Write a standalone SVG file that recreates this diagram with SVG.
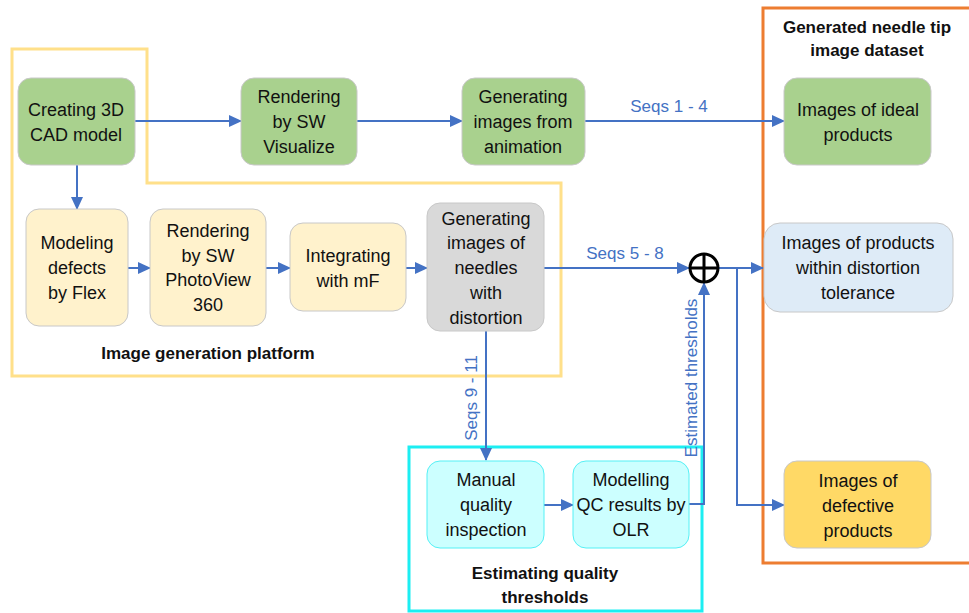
<svg xmlns="http://www.w3.org/2000/svg" width="969" height="613" viewBox="0 0 969 613">
<style>
.n{stroke:#C8C8C8;stroke-width:1}
.t{font-family:"Liberation Sans",Arial,sans-serif;font-size:18px;fill:#111;text-anchor:middle}
.b{font-family:"Liberation Sans",Arial,sans-serif;font-size:17px;font-weight:bold;fill:#111;text-anchor:middle}
.l{font-family:"Liberation Sans",Arial,sans-serif;font-size:17px;fill:#4472C4;text-anchor:middle}
.c{fill:none;stroke:#4472C4;stroke-width:2}
.green{fill:#A9D18E}.yel{fill:#FFF2CC}.gray{fill:#D9D9D9}.blue{fill:#DEEBF7}.gold{fill:#FFD966}.cyan{fill:#CCFFFF;stroke:#55F0F5}
</style>
<defs>
<marker id="a" markerUnits="userSpaceOnUse" markerWidth="13" markerHeight="12" refX="12" refY="6" orient="auto">
<path d="M0,0 L13,6 L0,12 z" fill="#4472C4"/>
</marker>
</defs>
<rect width="969" height="613" fill="#fff"/>
<g id="frames">
<path d="M12,49 H147 V183 H561 V376 H12 Z" fill="none" stroke="#FFE08A" stroke-width="3"/>
<rect x="763" y="8" width="215" height="555" fill="none" stroke="#ED7D31" stroke-width="3"/>
<rect x="409" y="447" width="293" height="164" fill="none" stroke="#1CEEF2" stroke-width="3"/>
<text class="b" x="208" y="359">Image generation platform</text>
<text class="b" x="867" y="33">Generated needle tip</text>
<text class="b" x="867" y="56">image dataset</text>
<text class="b" x="545" y="579">Estimating quality</text>
<text class="b" x="545" y="603">thresholds</text>
</g>
<g id="connectors">
<path class="c" d="M135,121 H241" marker-end="url(#a)"/>
<path class="c" d="M357,121 H462" marker-end="url(#a)"/>
<path class="c" d="M585,121 H784" marker-end="url(#a)"/>
<path class="c" d="M77,165 V209" marker-end="url(#a)"/>
<path class="c" d="M128,268 H150" marker-end="url(#a)"/>
<path class="c" d="M266,268 H290" marker-end="url(#a)"/>
<path class="c" d="M406,268 H427" marker-end="url(#a)"/>
<path class="c" d="M544,268 H689" marker-end="url(#a)"/>
<path class="c" d="M719,268 H763" marker-end="url(#a)"/>
<path class="c" d="M737,268 V505 H784" marker-end="url(#a)"/>
<path class="c" d="M486,331 V460" marker-end="url(#a)"/>
<path class="c" d="M544,505 H573" marker-end="url(#a)"/>
<path class="c" d="M689,504 H704 V283" marker-end="url(#a)"/>
<text class="l" x="669" y="112">Seqs 1 - 4</text>
<text class="l" x="625" y="259">Seqs 5 - 8</text>
<text class="l" transform="translate(477,398) rotate(-90)">Seqs 9 - 11</text>
<text class="l" transform="translate(697,378) rotate(-90)">Estimated thresholds</text>
</g>
<g id="oplus">
<circle cx="704" cy="268" r="14" fill="#fff" stroke="#000" stroke-width="3"/>
<path d="M690,268 H718 M704,254 V282" stroke="#000" stroke-width="3"/>
</g>
<g id="cad"><rect class="n green" x="18" y="78" width="117" height="87" rx="13"/>
<text class="t" x="76" y="116">Creating 3D</text><text class="t" x="76" y="141">CAD model</text></g>
<g id="visualize"><rect class="n green" x="241" y="78" width="116" height="87" rx="13"/>
<text class="t" x="299" y="103">Rendering</text><text class="t" x="299" y="128">by SW</text><text class="t" x="299" y="153">Visualize</text></g>
<g id="animation"><rect class="n green" x="462" y="78" width="123" height="87" rx="13"/>
<text class="t" x="523" y="103">Generating</text><text class="t" x="523" y="128">images from</text><text class="t" x="523" y="153">animation</text></g>
<g id="flex"><rect class="n yel" x="26" y="209" width="102" height="117" rx="13"/>
<text class="t" x="77" y="249">Modeling</text><text class="t" x="77" y="274">defects</text><text class="t" x="77" y="299">by Flex</text></g>
<g id="photoview"><rect class="n yel" x="150" y="209" width="116" height="117" rx="13"/>
<text class="t" x="208" y="237">Rendering</text><text class="t" x="208" y="262">by SW</text><text class="t" x="208" y="286">PhotoView</text><text class="t" x="208" y="311">360</text></g>
<g id="mf"><rect class="n yel" x="290" y="223" width="116" height="88" rx="13"/>
<text class="t" x="348" y="262">Integrating</text><text class="t" x="348" y="287">with mF</text></g>
<g id="distortion"><rect class="n gray" x="427" y="203" width="117" height="128" rx="13"/>
<text class="t" x="486" y="225">Generating</text><text class="t" x="486" y="249">images of</text><text class="t" x="486" y="274">needles</text><text class="t" x="486" y="299">with</text><text class="t" x="486" y="324">distortion</text></g>
<g id="manual"><rect class="cyan" x="427" y="461" width="117" height="87" rx="13"/>
<text class="t" x="486" y="486">Manual</text><text class="t" x="486" y="511">quality</text><text class="t" x="486" y="536">inspection</text></g>
<g id="olr"><rect class="cyan" x="573" y="461" width="116" height="87" rx="13"/>
<text class="t" x="631" y="486">Modelling</text><text class="t" x="631" y="511">QC results by</text><text class="t" x="631" y="536">OLR</text></g>
<g id="ideal"><rect class="n green" x="784" y="78" width="147" height="87" rx="13"/>
<text class="t" x="858" y="116">Images of ideal</text><text class="t" x="858" y="141">products</text></g>
<g id="tolerance"><rect class="n blue" x="764" y="223" width="189" height="89" rx="16"/>
<text class="t" x="858" y="249">Images of products</text><text class="t" x="858" y="274">within distortion</text><text class="t" x="858" y="299">tolerance</text></g>
<g id="defective"><rect class="n gold" x="784" y="461" width="147" height="87" rx="13"/>
<text class="t" x="858" y="487">Images of</text><text class="t" x="858" y="512">defective</text><text class="t" x="858" y="537">products</text></g>
</svg>
